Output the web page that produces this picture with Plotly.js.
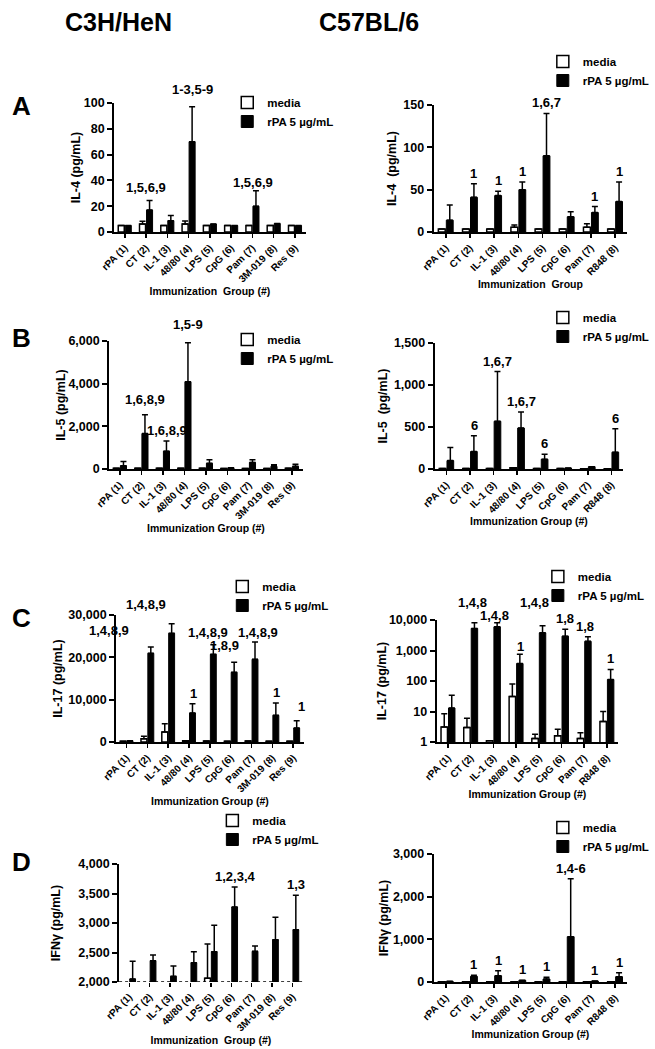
<!DOCTYPE html>
<html>
<head>
<meta charset="utf-8">
<script src="https://cdn.plot.ly/plotly-3.0.1.min.js"></script>
<style>html,body{margin:0;padding:0;background:#fff;}#chart{width:655px;height:1049px;}</style>
</head>
<body>
<div id="chart"></div>
<script>
// ---------- categories ----------
const groupsC3H = ['rPA (1)','CT (2)','IL-1 (3)','48/80 (4)','LPS (5)','CpG (6)','Pam (7)','3M-019 (8)','Res (9)'];
const groupsB6  = ['rPA (1)','CT (2)','IL-1 (3)','48/80 (4)','LPS (5)','CpG (6)','Pam (7)','R848 (8)'];

// ---------- A: IL-4 ----------
const il4C3H_media    = [5, 6.2, 5, 6.2, 5, 5, 5, 5, 5];
const il4C3H_mediaTop = [5, 8.3, 5, 8.6, 5, 5, 5, 5, 5];
const il4C3H_rpa      = [5, 17, 8.8, 70, 6.2, 5, 20, 6.5, 5];
const il4C3H_rpaTop   = [5, 24.4, 12.7, 97, 6.2, 5, 32, 6.5, 5];
const il4C3H_sig      = ['', '1,5,6,9', '', '1-3,5-9', '', '', '1,5,6,9', '', ''];

const il4B6_media    = [3.5, 3.5, 3.5, 5.5, 3.5, 3.5, 5.5, 3.5];
const il4B6_mediaTop = [3.5, 3.5, 3.5, 8.3, 3.5, 3.5, 9.8, 3.5];
const il4B6_rpa      = [14, 41, 43, 50, 90, 18, 23, 36];
const il4B6_rpaTop   = [32, 57, 48, 59, 140, 24, 30, 59];
const il4B6_sig      = ['', '1', '1', '1', '1,6,7', '', '1', '1'];

// ---------- B: IL-5 ----------
const il5C3H_media    = [30, 30, 30, 30, 30, 20, 20, 20, 30];
const il5C3H_mediaTop = [30, 30, 30, 30, 30, 20, 20, 20, 30];
const il5C3H_rpa      = [155, 1660, 837, 4093, 264, 62, 310, 124, 124];
const il5C3H_rpaTop   = [357, 2540, 1318, 5922, 434, 62, 434, 200, 217];
const il5C3H_sig      = ['', '1,6,8,9', '1,6,8,9', '1,5-9', '', '', '', '', ''];

const il5B6_media    = [6, 6, 6, 16, 6, 6, 4, 4];
const il5B6_mediaTop = [6, 6, 6, 16, 6, 6, 4, 4];
const il5B6_rpa      = [100, 208, 568, 488, 116, 12, 28, 200];
const il5B6_rpaTop   = [256, 396, 1160, 680, 176, 12, 28, 480];
const il5B6_sig      = ['', '6', '1,6,7', '1,6,7', '6', '', '', '6'];

// ---------- C: IL-17 ----------
const il17C3H_media    = [160, 790, 2360, 300, 240, 160, 240, 160, 160];
const il17C3H_mediaTop = [160, 1340, 4330, 300, 240, 160, 240, 160, 160];
const il17C3H_rpa      = [315, 20945, 25670, 6850, 20710, 16460, 19530, 6300, 3300];
const il17C3H_rpaTop   = [315, 22440, 27950, 9055, 22990, 18820, 23620, 9210, 5040];
const il17C3H_sig      = ['', '1,4,8,9', '1,4,8,9', '1', '1,4,8,9', '1,8,9', '1,4,8,9', '1', '1'];

const il17B6_media    = [3.1, 3, 1.1, 31, 1.3, 1.6, 1.3, 4.7];
const il17B6_mediaTop = [8.5, 6, 1.1, 80, 1.8, 2.6, 2, 10];
const il17B6_rpa      = [13, 5300, 6000, 375, 3800, 2950, 2000, 112];
const il17B6_rpaTop   = [34, 8100, 8100, 760, 6500, 5000, 2800, 240];
const il17B6_sig      = ['', '1,4,8', '1,4,8', '1', '1,4,8', '1,8', '1,8', '1'];
const logTickVals  = [1, 10, 100, 1000, 10000];
const logTickText  = ['1', '10', '100', '1,000', '10,000'];

// ---------- D: IFN-gamma ----------
const ifngC3H_media    = [null, null, null, null, 2062, null, null, null, null];
const ifngC3H_mediaTop = [null, null, null, null, 2644, null, null, null, null];
const ifngC3H_rpa      = [2051, 2362, 2096, 2328, 2514, 3271, 2520, 2718, 2887];
const ifngC3H_rpaTop   = [2350, 2458, 2271, 2514, 2960, 3610, 2610, 3096, 3469];
const ifngC3H_sig      = ['', '', '', '', '', '1,2,3,4', '', '', '1,3'];

const ifngB6_media    = [5, 5, 5, 5, 5, 5, 5, 5];
const ifngB6_mediaTop = [5, 5, 5, 5, 5, 5, 5, 5];
const ifngB6_rpa      = [15, 133, 148, 39, 70, 1062, 23, 125];
const ifngB6_rpaTop   = [15, 156, 265, 39, 109, 2420, 23, 219];
const ifngB6_sig      = ['', '1', '1', '1', '1', '1,4-6', '1', '1'];

const seriesNames = ['media', 'rPA 5 \u00b5g/mL'];

// ---------- layout config (pixel boxes, label nudges) ----------
const W = 655, H = 1049;
const FONT = 'Liberation Sans, Arial, Helvetica, sans-serif';
const panels = [
  {cats: groupsC3H, m: il4C3H_media, mt: il4C3H_mediaTop, r: il4C3H_rpa, rt: il4C3H_rpaTop, sig: il4C3H_sig,
   yt: 'IL-4 (pg/mL)', xt: 'Immunization  Group (#)', yr: [0, 100], dt: 20, box: [115, 308, 103, 232], leg: [229, 88],
   ys: 0, xs: 3, nudge: {1: [-4, -3], 3: [0, -7], 6: [-3, 2]}},
  {cats: groupsB6, m: il4B6_media, mt: il4B6_mediaTop, r: il4B6_rpa, rt: il4B6_rpaTop, sig: il4B6_sig,
   yt: 'IL-4  (pg/mL)', xt: 'Immunization  Group', yr: [0, 150], dt: 50, box: [437, 632, 105, 232], leg: [547, 47],
   ys: 4, xs: 0, nudge: {}},
  {cats: groupsC3H, m: il5C3H_media, mt: il5C3H_mediaTop, r: il5C3H_rpa, rt: il5C3H_rpaTop, sig: il5C3H_sig,
   yt: 'IL-5 (pg/mL)', xt: 'Immunization Group (#)', yr: [0, 6000], dt: 2000, box: [110, 305, 341, 469], leg: [229, 325],
   ys: 0, xs: 4, nudge: {1: [0, -5], 3: [0, -8]}},
  {cats: groupsB6, m: il5B6_media, mt: il5B6_mediaTop, r: il5B6_rpa, rt: il5B6_rpaTop, sig: il5B6_sig,
   yt: 'IL-5  (pg/mL)', xt: 'Immunization Group (#)', yr: [0, 1500], dt: 500, box: [438, 628, 343, 469], leg: [547, 303],
   ys: 4, xs: 0, nudge: {}},
  {cats: groupsC3H, m: il17C3H_media, mt: il17C3H_mediaTop, r: il17C3H_rpa, rt: il17C3H_rpaTop, sig: il17C3H_sig,
   yt: 'IL-17 (pg/mL)', xt: 'Immunization Group (#)', yr: [0, 30000], dt: 10000, box: [117, 306, 615, 742], leg: [224, 572],
   ys: 3, xs: 0, nudge: {1: [-42, -6], 2: [-26, -9], 4: [-6, -2], 5: [-10, -6], 6: [2, 1], 8: [4, -4]}},
  {cats: groupsB6, m: il17B6_media, mt: il17B6_mediaTop, r: il17B6_rpa, rt: il17B6_rpaTop, sig: il17B6_sig,
   yt: 'IL-17 (pg/mL)', xt: 'Immunization Group (#)', yr: [0, 4], log: true, box: [440, 623, 620, 742], leg: [542, 562],
   ys: 0, xs: 0, nudge: {1: [-2, -10], 2: [-3, 3], 3: [0, 3], 4: [-8, -13], 6: [-3, 0]}},
  {cats: groupsC3H, m: ifngC3H_media, mt: ifngC3H_mediaTop, r: ifngC3H_rpa, rt: ifngC3H_rpaTop, sig: ifngC3H_sig,
   yt: 'IFN\u03b3 (pg/mL)', xt: 'Immunization  Group (#)', yr: [2000, 4000], dt: 500, box: [120, 305, 864, 982], leg: [214, 806],
   ys: 15, xs: 0, nudge: {}, dotted: true},
  {cats: groupsB6, m: ifngB6_media, mt: ifngB6_mediaTop, r: ifngB6_rpa, rt: ifngB6_rpaTop, sig: ifngB6_sig,
   yt: 'IFN\u03b3 (pg/mL)', xt: 'Immunization Group (#)', yr: [0, 3000], dt: 1000, box: [437, 632, 854, 982], leg: [547, 813],
   ys: 2, xs: 2, nudge: {}}
];

function plusErr(vals, tops) {
  return vals.map((v, i) => (v == null || tops[i] == null) ? 0 : tops[i] - v);
}

const traces = [];
const layout = {
  width: W, height: H,
  margin: {l: 0, r: 0, t: 0, b: 0},
  paper_bgcolor: 'white', plot_bgcolor: 'white',
  barmode: 'group', bargap: 0.34, bargroupgap: 0.14,
  font: {family: FONT, color: 'black', size: 12},
  annotations: [], shapes: []
};

panels.forEach((p, i) => {
  const n = i === 0 ? '' : String(i + 1);
  const legName = i === 0 ? 'legend' : 'legend' + (i + 1);
  const zeros = p.cats.map(() => 0);
  const eb = (v, t) => ({type: 'data', symmetric: false, array: plusErr(v, t), arrayminus: zeros,
                         color: 'black', thickness: 1.5, width: 3});
  traces.push({type: 'bar', x: p.cats, y: p.m, name: seriesNames[0], xaxis: 'x' + n, yaxis: 'y' + n,
    legend: legName, marker: {color: 'white', line: {color: 'black', width: 1.5}}, error_y: eb(p.m, p.mt),
    hoverinfo: 'skip'});
  traces.push({type: 'bar', x: p.cats, y: p.r, name: seriesNames[1], xaxis: 'x' + n, yaxis: 'y' + n,
    legend: legName, marker: {color: 'black', line: {color: 'black', width: 1}}, error_y: eb(p.r, p.rt),
    hoverinfo: 'skip'});

  const [x0, x1, y0, y1] = p.box;
  layout['xaxis' + n] = {
    domain: [x0 / W, x1 / W], anchor: 'y' + n, type: 'category', range: [-0.5, p.cats.length - 0.5],
    showline: !p.dotted, linecolor: 'black', linewidth: 2, ticks: 'outside', ticklen: 4, tickwidth: 1.5,
    tickcolor: 'black', showgrid: false, zeroline: false, tickangle: -45, automargin: false,
    tickfont: {family: FONT, size: 10, weight: 'bold', color: 'black'},
    title: {text: p.xt, font: {family: FONT, size: 10.5, weight: 'bold', color: 'black'}, standoff: p.xs}
  };
  const ya = {
    domain: [1 - y1 / H, 1 - y0 / H], anchor: 'x' + n, range: p.yr,
    showline: true, linecolor: 'black', linewidth: 2, ticks: 'outside', ticklen: 5, tickwidth: 2,
    tickcolor: 'black', showgrid: false, zeroline: false, automargin: false,
    tickfont: {family: FONT, size: 12.5, weight: 'bold', color: 'black'},
    title: {text: p.yt, font: {family: FONT, size: 12.5, weight: 'bold', color: 'black'}, standoff: p.ys}
  };
  if (p.log) {
    ya.type = 'log'; ya.tickvals = logTickVals; ya.ticktext = logTickText;
  } else {
    ya.dtick = p.dt; ya.tick0 = 0; ya.tickformat = ',d';
  }
  layout['yaxis' + n] = ya;

  if (p.dotted) {
    layout.shapes.push({type: 'line', xref: 'x' + n + ' domain', yref: 'y' + n, x0: 0, x1: 1, y0: p.yr[0], y1: p.yr[0],
      line: {color: 'black', width: 1.6, dash: 'dot'}});
  }

  layout[legName] = {
    x: p.leg[0] / W, y: 1 - p.leg[1] / H, xanchor: 'left', yanchor: 'top',
    bgcolor: 'rgba(0,0,0,0)', borderwidth: 0, orientation: 'v', traceorder: 'normal',
    itemwidth: 30, font: {family: FONT, size: 11.5, weight: 'bold', color: 'black'}
  };

  p.sig.forEach((s, k) => {
    if (!s) return;
    const top = p.rt[k];
    const nd = p.nudge[k] || [0, 0];
    layout.annotations.push({
      xref: 'x' + n, yref: 'y' + n, x: p.cats[k], y: p.log ? Math.log10(top) : top,
      text: s, showarrow: false, xanchor: 'center', yanchor: 'bottom', xshift: 4 + nd[0], yshift: 2 - nd[1],
      borderpad: 0, font: {family: FONT, size: 13, weight: 'bold', color: 'black'}
    });
  });
});

// strain titles and panel letters
const strainTitles = [['C3H/HeN', 119], ['C57BL/6', 372]];
strainTitles.forEach(([t, xc]) => layout.annotations.push({
  xref: 'paper', yref: 'paper', x: xc / W, y: 1 - 22 / H, text: t, showarrow: false,
  xanchor: 'center', yanchor: 'middle',
  font: {family: 'Liberation Sans Narrow, Arial Narrow, Liberation Sans, Arial, sans-serif', size: 25, weight: 'bold', color: 'black'}
}));
const panelLetters = [['A', 106], ['B', 338], ['C', 618], ['D', 862]];
panelLetters.forEach(([t, yc]) => layout.annotations.push({
  xref: 'paper', yref: 'paper', x: 22 / W, y: 1 - yc / H, text: t, showarrow: false,
  xanchor: 'center', yanchor: 'middle',
  font: {family: FONT, size: 26, weight: 'bold', color: 'black'}
}));

Plotly.newPlot('chart', traces, layout, {staticPlot: true, displayModeBar: false});
</script>
</body>
</html>
